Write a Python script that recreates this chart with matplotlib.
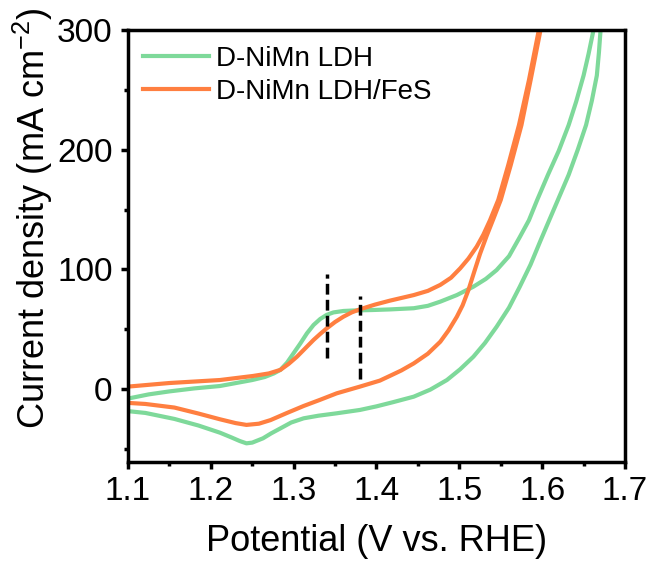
import matplotlib
matplotlib.use("Agg")
import matplotlib.pyplot as plt

plt.rcParams['font.family'] = ['Liberation Sans', 'DejaVu Sans']
plt.rcParams['mathtext.fontset'] = 'custom'
plt.rcParams['mathtext.rm'] = 'Liberation Sans'
plt.rcParams['mathtext.default'] = 'regular'

# ---- data (CV loops: forward scan, then reverse scan) ----
ldh_fwd_v = [1.100, 1.125, 1.150, 1.180, 1.211, 1.250, 1.265, 1.276, 1.284, 1.292,
             1.300, 1.308, 1.316, 1.324, 1.332, 1.340, 1.348, 1.360, 1.372, 1.395,
             1.416, 1.445, 1.462, 1.477, 1.497, 1.517, 1.532, 1.545, 1.560, 1.573,
             1.584, 1.594, 1.607, 1.620, 1.632, 1.641, 1.650, 1.656, 1.662]
ldh_fwd_j = [-8, -4.5, -2, 0.5, 2.5, 7.5, 10, 13, 16, 22,
             30, 38, 46.5, 53.5, 58.5, 62, 64, 65.2, 65.6, 66,
             66.5, 67.5, 69.5, 73, 78.5, 85.5, 92, 99.4, 111, 127,
             141, 158, 179, 199, 220.6, 240, 262, 280, 300]
ldh_rev_v = [1.6705, 1.6685, 1.666, 1.660, 1.653, 1.643, 1.632, 1.619, 1.606, 1.598,
             1.586, 1.573, 1.560, 1.545, 1.531, 1.517, 1.501, 1.485, 1.465, 1.445,
             1.420, 1.400, 1.380, 1.352, 1.330, 1.312, 1.297, 1.284, 1.273, 1.263,
             1.250, 1.243, 1.235, 1.225, 1.211, 1.185, 1.156, 1.121, 1.100]
ldh_rev_j = [300, 281, 262, 241, 220.6, 200, 179, 158, 137, 124,
             104, 85.5, 68, 52, 38.5, 27, 16.5, 7.5, -0.5, -6.4,
             -11, -14.5, -17.5, -20.3, -22.3, -24.5, -28, -32.9, -37, -41.2,
             -44.8, -45.4, -43.5, -40.5, -36.5, -30.5, -25, -20, -18.5]

fes_fwd_v = [1.100, 1.150, 1.211, 1.251, 1.270, 1.284, 1.294, 1.304, 1.314, 1.324,
             1.332, 1.340, 1.350, 1.360, 1.370, 1.380, 1.398, 1.416, 1.445, 1.462,
             1.477, 1.490, 1.501, 1.511, 1.521, 1.529, 1.537, 1.547, 1.559, 1.572,
             1.584, 1.596]
fes_fwd_j = [2, 5, 7.5, 10.9, 13, 16, 21, 27, 34, 41,
             46, 50.7, 56, 60.4, 64, 66.6, 70.5, 73.8, 78.5, 82,
             87, 93, 100.8, 109, 119, 129, 141, 158, 187, 220.6,
             258, 300]
fes_rev_v = [1.598, 1.586, 1.575, 1.562, 1.550, 1.541, 1.533, 1.525, 1.518, 1.511,
             1.504, 1.497, 1.487, 1.477, 1.462, 1.445, 1.430, 1.416, 1.404, 1.392,
             1.380, 1.352, 1.332, 1.312, 1.292, 1.272, 1.258, 1.243, 1.230, 1.211,
             1.185, 1.156, 1.121, 1.100]
fes_rev_j = [300, 258, 220.6, 187, 158, 142, 128, 113, 98, 82.7,
             70, 60.4, 49, 39.5, 29.5, 21.4, 15.5, 10.9, 7, 4.5,
             2, -3.6, -9, -14.2, -20, -26, -29, -30, -28.5, -25.3,
             -20.5, -15.5, -12.5, -11.6]

# vertical dashed markers: (potential, j_bottom, j_top)
marker_v = [1.340, 1.380]
marker_lo = [26, 8]
marker_hi = [96, 78]

labels = ['D-NiMn LDH', 'D-NiMn LDH/FeS']
colors = ['#7ed99a', '#ff7f40']

fig = plt.figure(figsize=(6.54, 5.62), dpi=100)
ax = fig.add_axes([128 / 654, 1 - 462 / 562, 497 / 654, 432 / 562])

ax.plot(ldh_fwd_v + ldh_rev_v, ldh_fwd_j + ldh_rev_j, color=colors[0], lw=3,
        label=labels[0], solid_joinstyle='round')
ax.plot(fes_fwd_v + fes_rev_v, fes_fwd_j + fes_rev_j, color=colors[1], lw=3,
        label=labels[1], solid_joinstyle='round')

for v, lo, hi in zip(marker_v, marker_lo, marker_hi):
    ax.plot([v, v], [lo, hi], color='black', lw=2.5, linestyle=(0, (3.1, 1.5)))

ax.set_xlim(1.1, 1.7)
ax.set_ylim(-61, 300)
ax.set_xticks([1.1, 1.2, 1.3, 1.4, 1.5, 1.6, 1.7])
ax.set_xticks([1.15, 1.25, 1.35, 1.45, 1.55, 1.65], minor=True)
ax.set_yticks([0, 100, 200, 300])
ax.set_yticks([-50, 50, 150, 250], minor=True)

for s in ax.spines.values():
    s.set_linewidth(2.5)
ax.tick_params(which='major', direction='out', length=5, width=2.5, labelsize=24, pad=5)
ax.tick_params(which='minor', direction='out', length=3, width=2.5)
ax.tick_params(axis='y', which='major', pad=6)

ax.set_xlabel('Potential (V vs. RHE)', fontsize=26)
ax.set_ylabel('Current density (mA cm$^{-2}$)', fontsize=26)
ax.xaxis.set_label_coords(0.5, -0.143)
ax.yaxis.set_label_coords(-0.147, 0.565)

ax.legend(loc='upper left', bbox_to_anchor=(0.003, 0.995), frameon=False, fontsize=20,
          borderpad=0, handlelength=2.35, handletextpad=0.25, labelspacing=0.25)

fig.savefig('out.png', dpi=100)
